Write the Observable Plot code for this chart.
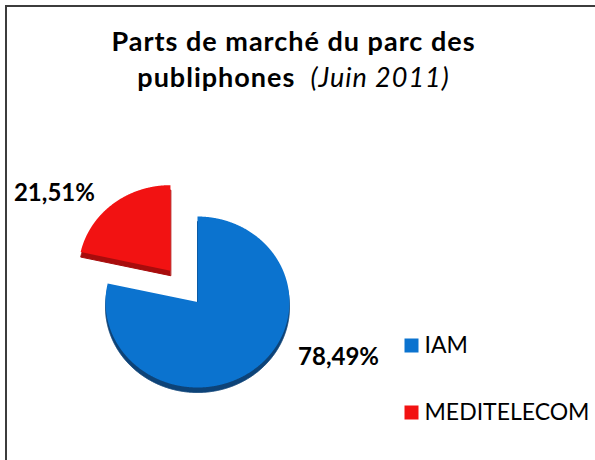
<!DOCTYPE html>
<html><head><meta charset="utf-8">
<script src="https://cdn.jsdelivr.net/npm/d3@7"></script>
<script src="https://cdn.jsdelivr.net/npm/@observablehq/plot@0.6"></script>
<style>
body{margin:0;background:#fff;}
#wrap{position:relative;width:595px;height:460px;overflow:hidden;font-family:Lato,sans-serif;background:#fff;}
#frame{position:absolute;left:5px;top:5px;width:600px;height:470px;border-left:2px solid #3c3c3c;border-top:2px solid #3c3c3c;}
#title{position:absolute;left:0;top:23px;width:587px;text-align:center;font-weight:bold;font-size:27px;line-height:36px;letter-spacing:1px;color:#000;}
#title i{font-weight:normal;}
#chart{position:absolute;left:0;top:0;}
</style></head>
<body><div id="wrap"><div id="frame"></div><div id="chart"></div><div id="title">Parts de marché du parc des<br>publiphones&nbsp; <i>(Juin 2011)</i></div></div>
<script>
const categories = ["IAM", "MEDITELECOM"];
const shares = [78.49, 21.51];
const labels = ["78,49%", "21,51%"];
const colors = ["#0b73cf", "#f21212"];
const edgeColors = ["#0d4378", "#a80c0c"];
const explode = [0, 0.47];

const slices = categories.map((c, i) => ({cat: c, share: shares[i], label: labels[i]}));
const arcs = d3.pie().sort(null).value(d => d.share)(slices);

const pts = [];
const mids = [];
arcs.forEach((p, i) => {
  const m = (p.startAngle + p.endAngle) / 2;
  const ox = explode[i] * Math.sin(m), oy = explode[i] * Math.cos(m);
  mids.push({...p.data, x: ox + Math.sin(m), y: oy + Math.cos(m)});
  pts.push({cat: p.data.cat, x: ox, y: oy});
  const n = Math.ceil((p.endAngle - p.startAngle) / 0.005);
  for (let k = 0; k <= n; k++) {
    const a = p.startAngle + (p.endAngle - p.startAngle) * k / n;
    pts.push({cat: p.data.cat, x: ox + Math.sin(a), y: oy + Math.cos(a)});
  }
});

const edgeMarks = categories.map((c, i) =>
  Plot.line(pts.filter(d => d.cat === c), {x: "x", y: "y", fill: edgeColors[i], stroke: edgeColors[i], strokeWidth: 1, dy: 5, curve: "linear-closed"}));

const plot = Plot.plot({
  width: 595, height: 460,
  margin: 0,
  style: {fontFamily: "Lato, sans-serif", background: "transparent"},
  x: {domain: [-1, 1], range: [105, 289], axis: null},
  y: {domain: [-1, 1], range: [387, 216], axis: null},
  color: {domain: categories, range: colors},
  marks: [
    ...edgeMarks,
    Plot.line(pts, {x: "x", y: "y", z: "cat", fill: "cat", stroke: null, curve: "linear-closed"}),
    Plot.text(mids.filter(d => d.cat === "MEDITELECOM"), {x: "x", y: "y", text: "label", textAnchor: "end", dx: -18, dy: -11, fontSize: 24, fontWeight: "bold", fill: "#000"}),
    Plot.text(mids.filter(d => d.cat === "IAM"), {x: "x", y: "y", text: "label", textAnchor: "start", dx: 43, dy: -11, fontSize: 24, fontWeight: "bold", fill: "#000"}),
    ...categories.map((c, i) => Plot.dot([c], {frameAnchor: "top-left", dx: 411, dy: 345 + i * 67, fill: d => d, symbol: "square", r: 7.9, stroke: null})),
    ...categories.map((c, i) => Plot.text([c], {frameAnchor: "top-left", dx: 424, dy: 345 + i * 67, text: d => d, textAnchor: "start", lineAnchor: "middle", fontSize: 23, fill: "#000"}))
  ]
});
document.getElementById("chart").appendChild(plot);
</script>
</body></html>
